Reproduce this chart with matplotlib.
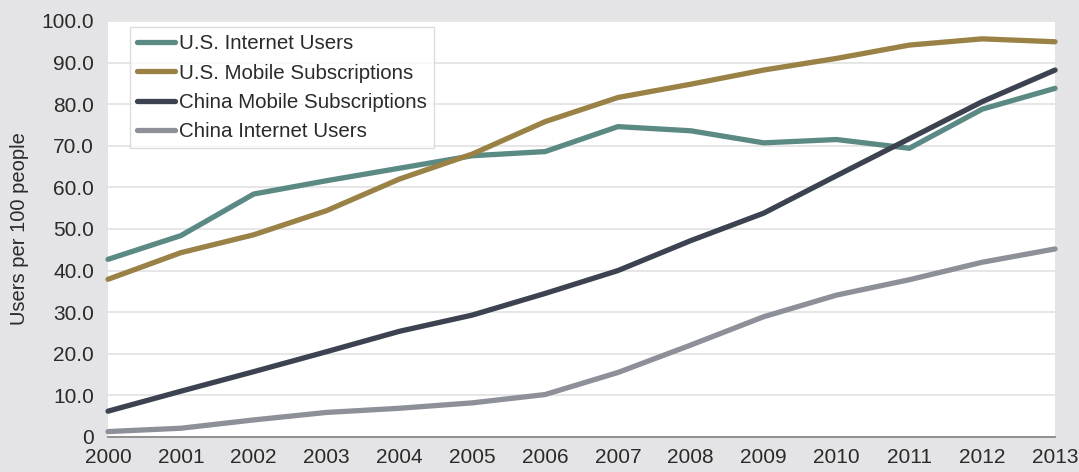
import matplotlib.pyplot as plt

plt.rcParams['font.family'] = ['Liberation Sans', 'DejaVu Sans']

years = list(range(2000, 2014))

# users / subscriptions per 100 people
us_internet = [42.7, 48.4, 58.4, 61.6, 64.6, 67.6, 68.6, 74.6, 73.6, 70.7, 71.5, 69.4, 78.8, 83.8]
us_mobile = [37.9, 44.3, 48.6, 54.4, 62.0, 68.0, 75.8, 81.6, 84.8, 88.2, 91.0, 94.2, 95.7, 95.0]
china_mobile = [6.2, 11.0, 15.7, 20.5, 25.4, 29.3, 34.5, 40.0, 47.2, 53.8, 62.8, 71.7, 80.6, 88.2]
china_internet = [1.3, 2.1, 4.1, 5.9, 6.9, 8.2, 10.2, 15.5, 22.1, 28.9, 34.1, 37.8, 42.0, 45.2]

series = [
    ('U.S. Internet Users', us_internet, '#5b8a84'),
    ('U.S. Mobile Subscriptions', us_mobile, '#9a8247'),
    ('China Mobile Subscriptions', china_mobile, '#3c4250'),
    ('China Internet Users', china_internet, '#8d9098'),
]

yticks = [0, 10, 20, 30, 40, 50, 60, 70, 80, 90, 100]
ytick_labels = ['0'] + ['%.1f' % v for v in yticks[1:]]

fig = plt.figure(figsize=(10.79, 4.72), dpi=100, facecolor='#e4e4e6')
ax = fig.add_axes([0.1001, 0.0742, 0.8777, 0.8814])
ax.set_facecolor('white')

for name, vals, col in series:
    ax.plot(years, vals, color=col, lw=3.8, solid_capstyle='round',
            solid_joinstyle='round', label=name, clip_on=False, zorder=3)

ax.set_xlim(2000, 2013)
ax.set_ylim(0, 100)
ax.set_xticks(years)
ax.set_yticks(yticks)
ax.set_yticklabels(ytick_labels)
ax.grid(axis='y', color='#e2e2e2', lw=1.2)
ax.set_axisbelow(True)
ax.tick_params(axis='both', length=0, labelsize=15, labelcolor='#2a2a2a')
ax.tick_params(axis='y', pad=10)
ax.tick_params(axis='x', pad=8)

for s in ['left', 'right', 'top']:
    ax.spines[s].set_visible(False)
ax.spines['bottom'].set_color('#8a8a8a')
ax.spines['bottom'].set_linewidth(1.3)

ax.set_ylabel('Users per 100 people', fontsize=14.5, color='#2a2a2a', labelpad=9)

leg = ax.legend(loc='upper left', bbox_to_anchor=(0.023, 0.985), borderaxespad=0,
                fontsize=14.8, frameon=True, fancybox=False, edgecolor='#d4d4d4',
                handlelength=1.85, handletextpad=0.2, labelspacing=0.5,
                borderpad=0.35)
leg.get_frame().set_linewidth(1.0)
for t in leg.get_texts():
    t.set_color('#2a2a2a')

fig.savefig('out.png', dpi=100, facecolor=fig.get_facecolor())
